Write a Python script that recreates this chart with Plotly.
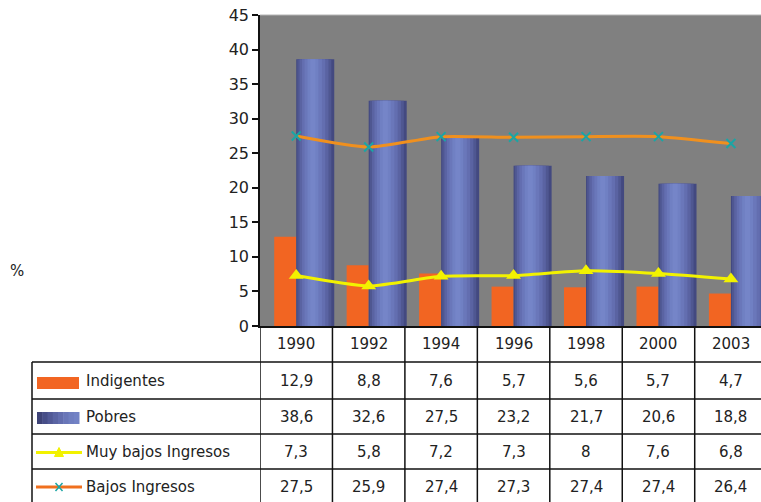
import plotly.graph_objects as go

years = ["1990", "1992", "1994", "1996", "1998", "2000", "2003"]
indigentes = [12.9, 8.8, 7.6, 5.7, 5.6, 5.7, 4.7]
pobres = [38.6, 32.6, 27.5, 23.2, 21.7, 20.6, 18.8]
muy_bajos = [7.3, 5.8, 7.2, 7.3, 8, 7.6, 6.8]
bajos = [27.5, 25.9, 27.4, 27.3, 27.4, 27.4, 26.4]
series_names = ["Indigentes", "Pobres", "Muy bajos Ingresos", "Bajos Ingresos"]
y_ticks = list(range(0, 46, 5))

W, H = 761, 502
L, R, T, B = 260, 761, 15, 326
FONT = "DejaVu Sans"


def px2x(px):
    return (px - L) / (R - L)


def py2y(py):
    return (B - py) / (B - T)


def fmt(v):
    return ("%g" % v).replace(".", ",")


xs = list(range(len(years)))
fig = go.Figure()

# Orange bars (left of category center)
fig.add_trace(go.Bar(x=xs, y=indigentes, offset=-0.304, width=0.304,
                     marker=dict(color="#f26522", line=dict(width=0)),
                     hoverinfo="skip", showlegend=False))

# Blue bars with simulated cylinder shading
layers = [(0.525, 0.2625, "#434980"), (0.47, 0.25, "#4f5791"), (0.40, 0.245, "#5a63a2"),
          (0.32, 0.24, "#636eb0"), (0.24, 0.235, "#6a77ba"), (0.15, 0.23, "#7080c3"),
          (0.07, 0.23, "#7585c8")]
for w, c, col in layers:
    fig.add_trace(go.Bar(x=xs, y=pobres, offset=c - w / 2, width=w,
                         marker=dict(color=col, line=dict(width=0)),
                         hoverinfo="skip", showlegend=False))

fig.add_trace(go.Scatter(x=xs, y=bajos, mode="lines+markers",
                         line=dict(color="#f0901e", width=3, shape="spline", smoothing=0.6),
                         marker=dict(symbol="x-thin", size=9, line=dict(color="#1aa5a5", width=2)),
                         hoverinfo="skip", showlegend=False))
fig.add_trace(go.Scatter(x=xs, y=muy_bajos, mode="lines+markers",
                         line=dict(color="#f2f200", width=3, shape="spline", smoothing=0.6),
                         marker=dict(symbol="triangle-up", size=13, color="#f2f200"),
                         hoverinfo="skip", showlegend=False))

shapes = []
ann = []
line_c = "#111111"

# top border of plot area
shapes.append(dict(type="line", xref="paper", yref="paper", x0=0, x1=1, y0=1, y1=1,
                   line=dict(color="#b4b4b4", width=1)))

# Table grid
bottom = py2y(510)
for k in range(len(years) + 1):
    shapes.append(dict(type="line", xref="x", yref="paper", x0=k - 0.5, x1=k - 0.5,
                       y0=0, y1=bottom, line=dict(color=line_c, width=1.5)))
shapes.append(dict(type="line", xref="paper", yref="paper", x0=px2x(32), x1=px2x(32),
                   y0=py2y(362), y1=bottom, line=dict(color=line_c, width=1.5)))
for py in [362, 399, 434, 469]:
    shapes.append(dict(type="line", xref="paper", yref="paper", x0=px2x(32), x1=1.05,
                       y0=py2y(py), y1=py2y(py), line=dict(color=line_c, width=1.5)))

txt_font = dict(family=FONT, size=15, color="#222")

# header
for i, yr in enumerate(years):
    ann.append(dict(x=i, y=py2y(344), xref="x", yref="paper", text=yr, showarrow=False,
                    xanchor="center", yanchor="middle", font=txt_font))

rows = [indigentes, pobres, muy_bajos, bajos]
row_y = [380.5, 416.5, 451.5, 487]
for r, vals in enumerate(rows):
    for i, v in enumerate(vals):
        ann.append(dict(x=i, y=py2y(row_y[r]), xref="x", yref="paper", text=fmt(v),
                        showarrow=False, xanchor="center", yanchor="middle", font=txt_font))
    ann.append(dict(x=px2x(84), y=py2y(row_y[r]), xref="paper", yref="paper",
                    text=series_names[r], showarrow=False, xanchor="left", yanchor="middle",
                    font=txt_font))

# legend keys
shapes.append(dict(type="rect", xref="paper", yref="paper", x0=px2x(37), x1=px2x(79),
                   y0=py2y(389), y1=py2y(377), fillcolor="#f26522", line=dict(width=0)))
grad = ["#3e4377", "#474e88", "#515996", "#5a64a3", "#626dae", "#6976b8", "#6f7ec0", "#7282c5"]
n = len(grad)
for j, col in enumerate(grad):
    shapes.append(dict(type="rect", xref="paper", yref="paper",
                       x0=px2x(37 + 42 * j / n), x1=px2x(37 + 42 * (j + 1) / n + 0.5),
                       y0=py2y(424), y1=py2y(412), fillcolor=col, line=dict(width=0)))
shapes.append(dict(type="line", xref="paper", yref="paper", x0=px2x(36), x1=px2x(82),
                   y0=py2y(452.5), y1=py2y(452.5), line=dict(color="#f2f200", width=3)))
tx, ty = 59, 452.5
shapes.append(dict(type="path", xref="paper", yref="paper",
                   path="M %f %f L %f %f L %f %f Z" % (px2x(tx - 4.5), py2y(ty + 4), px2x(tx + 4.5), py2y(ty + 4),
                                                       px2x(tx), py2y(ty - 5)),
                   fillcolor="#f2f200", line=dict(color="#f2f200", width=1)))
shapes.append(dict(type="line", xref="paper", yref="paper", x0=px2x(36), x1=px2x(82),
                   y0=py2y(487), y1=py2y(487), line=dict(color="#f0701e", width=3)))
cx, cy = 59, 487
for dx in (-1, 1):
    shapes.append(dict(type="line", xref="paper", yref="paper",
                       x0=px2x(cx - 3.5 * dx), x1=px2x(cx + 3.5 * dx),
                       y0=py2y(cy - 4), y1=py2y(cy + 4), line=dict(color="#1aa5a5", width=1.5)))

ann.append(dict(x=px2x(17), y=py2y(271), xref="paper", yref="paper", text="%",
                showarrow=False, xanchor="center", yanchor="middle", font=txt_font))

fig.update_layout(
    width=W, height=H,
    margin=dict(l=L, r=W - R, t=T, b=H - B, autoexpand=False),
    paper_bgcolor="white", plot_bgcolor="#808080",
    barmode="overlay", showlegend=False,
    shapes=shapes, annotations=ann,
    xaxis=dict(range=[-0.5, 6.415], showticklabels=False, ticks="", showgrid=False,
               zeroline=False, showline=True, linecolor=line_c, linewidth=1.5, fixedrange=True),
    yaxis=dict(range=[0, 45], tickvals=y_ticks, ticks="outside", ticklen=6, tickwidth=1.5,
               tickcolor=line_c, showgrid=False, zeroline=False, showline=True,
               linecolor=line_c, linewidth=1.5,
               tickfont=dict(family=FONT, size=16, color="#222"), fixedrange=True),
)

fig.write_html("out.html", config={"displayModeBar": False})

with open("out.html", "r", encoding="utf-8") as f:
    html = f.read()
html = html.replace("<head>", "<head><style>html,body{margin:0;padding:0;overflow:hidden;}</style>", 1)
with open("out.html", "w", encoding="utf-8") as f:
    f.write(html)
